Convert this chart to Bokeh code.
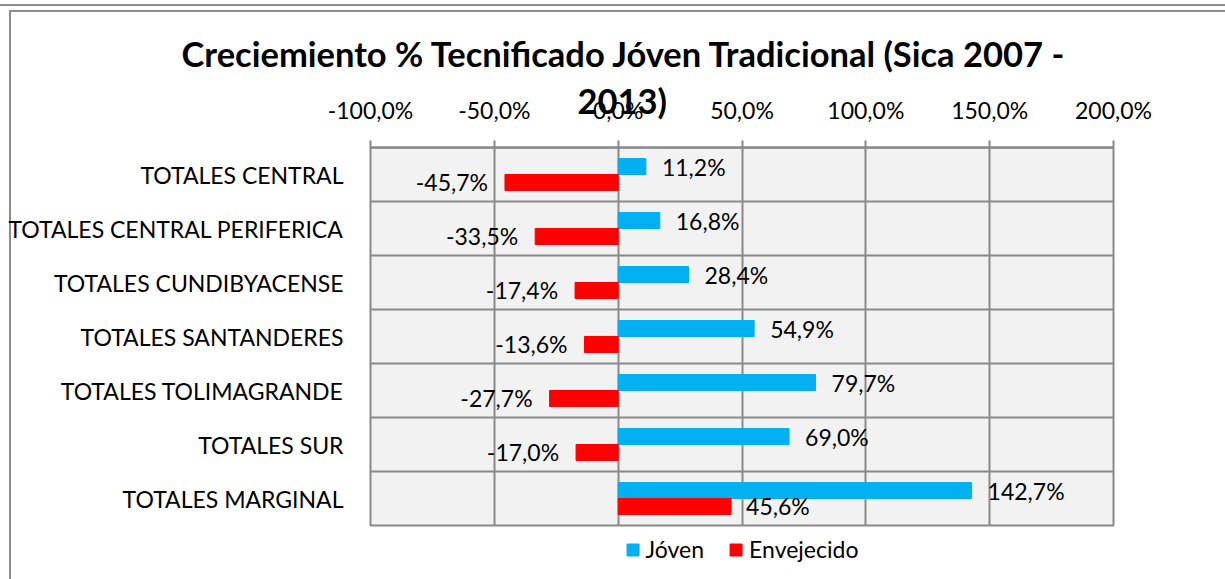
from bokeh.plotting import figure
from bokeh.models import ColumnDataSource, FactorRange, FixedTicker, Legend, LegendItem, Title
from bokeh.transform import dodge
from bokeh.embed import file_html
from bokeh.resources import INLINE

categories = ["TOTALES CENTRAL", "TOTALES CENTRAL PERIFERICA", "TOTALES CUNDIBYACENSE",
              "TOTALES SANTANDERES", "TOTALES TOLIMAGRANDE", "TOTALES SUR", "TOTALES MARGINAL"]
joven = [11.2, 16.8, 28.4, 54.9, 79.7, 69.0, 142.7]
envejecido = [-45.7, -33.5, -17.4, -13.6, -27.7, -17.0, 45.6]
x_ticks = [-100, -50, 0, 50, 100, 150, 200]
title_line1 = "Creciemiento  % Tecnificado Jóven Tradicional (Sica 2007 -"
title_line2 = "2013)"

FONT = "Lato"
FS = "23px"
TFS = "34.5px"
BLUE = "#00B0F0"
RED = "#FF0000"
GRID = "#898989"


def fmt(v):
    return f"{v:.1f}".replace(".", ",") + "%"


src = ColumnDataSource(dict(
    cat=categories,
    joven=joven,
    env=envejecido,
    jl=[fmt(v) for v in joven],
    el=[fmt(v) for v in envejecido],
    e_align=["right" if v < 0 else "left" for v in envejecido],
    e_off=[-17 if v < 0 else 15 for v in envejecido],
))

p = figure(width=1225, height=579, frame_width=743, frame_height=378,
           output_backend="svg", toolbar_location=None,
           y_range=FactorRange(*reversed(categories)), x_range=(-100, 200),
           x_axis_location="above",
           min_border_left=370, min_border_right=112, min_border_top=147, min_border_bottom=54)

p.background_fill_color = "#F2F2F2"
p.border_fill_color = None
p.outline_line_color = GRID
p.outline_line_width = 2
# outer chart-area frame lines (drawn behind the transparent canvas border)
p.styles = {
    "background-color": "white",
    "background-image": ("linear-gradient(#8c8c8c,#8c8c8c), linear-gradient(#8c8c8c,#8c8c8c), "
                         "linear-gradient(#8c8c8c,#8c8c8c)"),
    "background-size": "2px 100%, 100% 2px, 100% 2px",
    "background-position": "9px 10px, 9px 10px, 0px 4px",
    "background-repeat": "no-repeat",
}

# row separators
p.hspan(y=dodge("cat", 0.5, range=p.y_range), source=src, line_color=GRID, line_width=2)

bh = 0.296
off = 0.148
rj = p.hbar(y=dodge("cat", off, range=p.y_range), left=0, right="joven", height=bh,
            color=BLUE, source=src)
re = p.hbar(y=dodge("cat", -off, range=p.y_range), left=0, right="env", height=bh,
            color=RED, source=src)

p.text(x="joven", y=dodge("cat", off, range=p.y_range), text="jl", source=src,
       x_offset=16, text_align="left", text_baseline="middle",
       text_font_size=FS, text_font={"value": FONT}, text_color="black")
p.text(x="env", y=dodge("cat", -off, range=p.y_range), text="el", source=src,
       x_offset="e_off", text_align="e_align", text_baseline="middle",
       text_font_size=FS, text_font={"value": FONT}, text_color="black")

# x axis
xa = p.xaxis[0]
xa.ticker = FixedTicker(ticks=x_ticks)
xa.major_label_overrides = {t: fmt(t) for t in x_ticks}
xa.major_label_text_font = FONT
xa.major_label_text_font_size = FS
xa.major_label_text_color = "black"
xa.axis_line_color = GRID
xa.axis_line_width = 2
xa.major_tick_line_color = GRID
xa.major_tick_line_width = 2
xa.major_tick_out = 7
xa.major_tick_in = 0
xa.minor_tick_line_color = None
xa.major_label_standoff = 17

ya = p.yaxis[0]
ya.axis_line_color = None
ya.major_tick_line_color = None
ya.major_label_text_font = FONT
ya.major_label_text_font_size = FS
ya.major_label_text_color = "black"
ya.major_label_standoff = 21

p.xgrid.grid_line_color = GRID
p.xgrid.grid_line_width = 2
p.xgrid.ticker = FixedTicker(ticks=x_ticks)
p.ygrid.grid_line_color = None

# title: second line (closest to the axis, overlapping its labels as in the original), then first line
p.add_layout(Title(text=title_line2, align="left", offset=207, standoff=-56,
                   text_font=FONT, text_font_style="bold", text_font_size=TFS,
                   text_color="black"), "above")
p.add_layout(Title(text=title_line1, align="left", offset=-189, standoff=38,
                   text_font=FONT, text_font_style="bold", text_font_size=TFS,
                   text_color="black"), "above")

legend = Legend(items=[LegendItem(label="Jóven", renderers=[rj]),
                       LegendItem(label="Envejecido", renderers=[re])],
                orientation="horizontal", location="top_center",
                label_text_font=FONT, label_text_font_size=FS, label_text_color="black",
                glyph_width=15, glyph_height=15, label_standoff=6, spacing=24,
                border_line_color=None, background_fill_alpha=0,
                padding=0, margin=10)
p.add_layout(legend, "below")

open("out.html", "w").write(file_html(p, INLINE))
